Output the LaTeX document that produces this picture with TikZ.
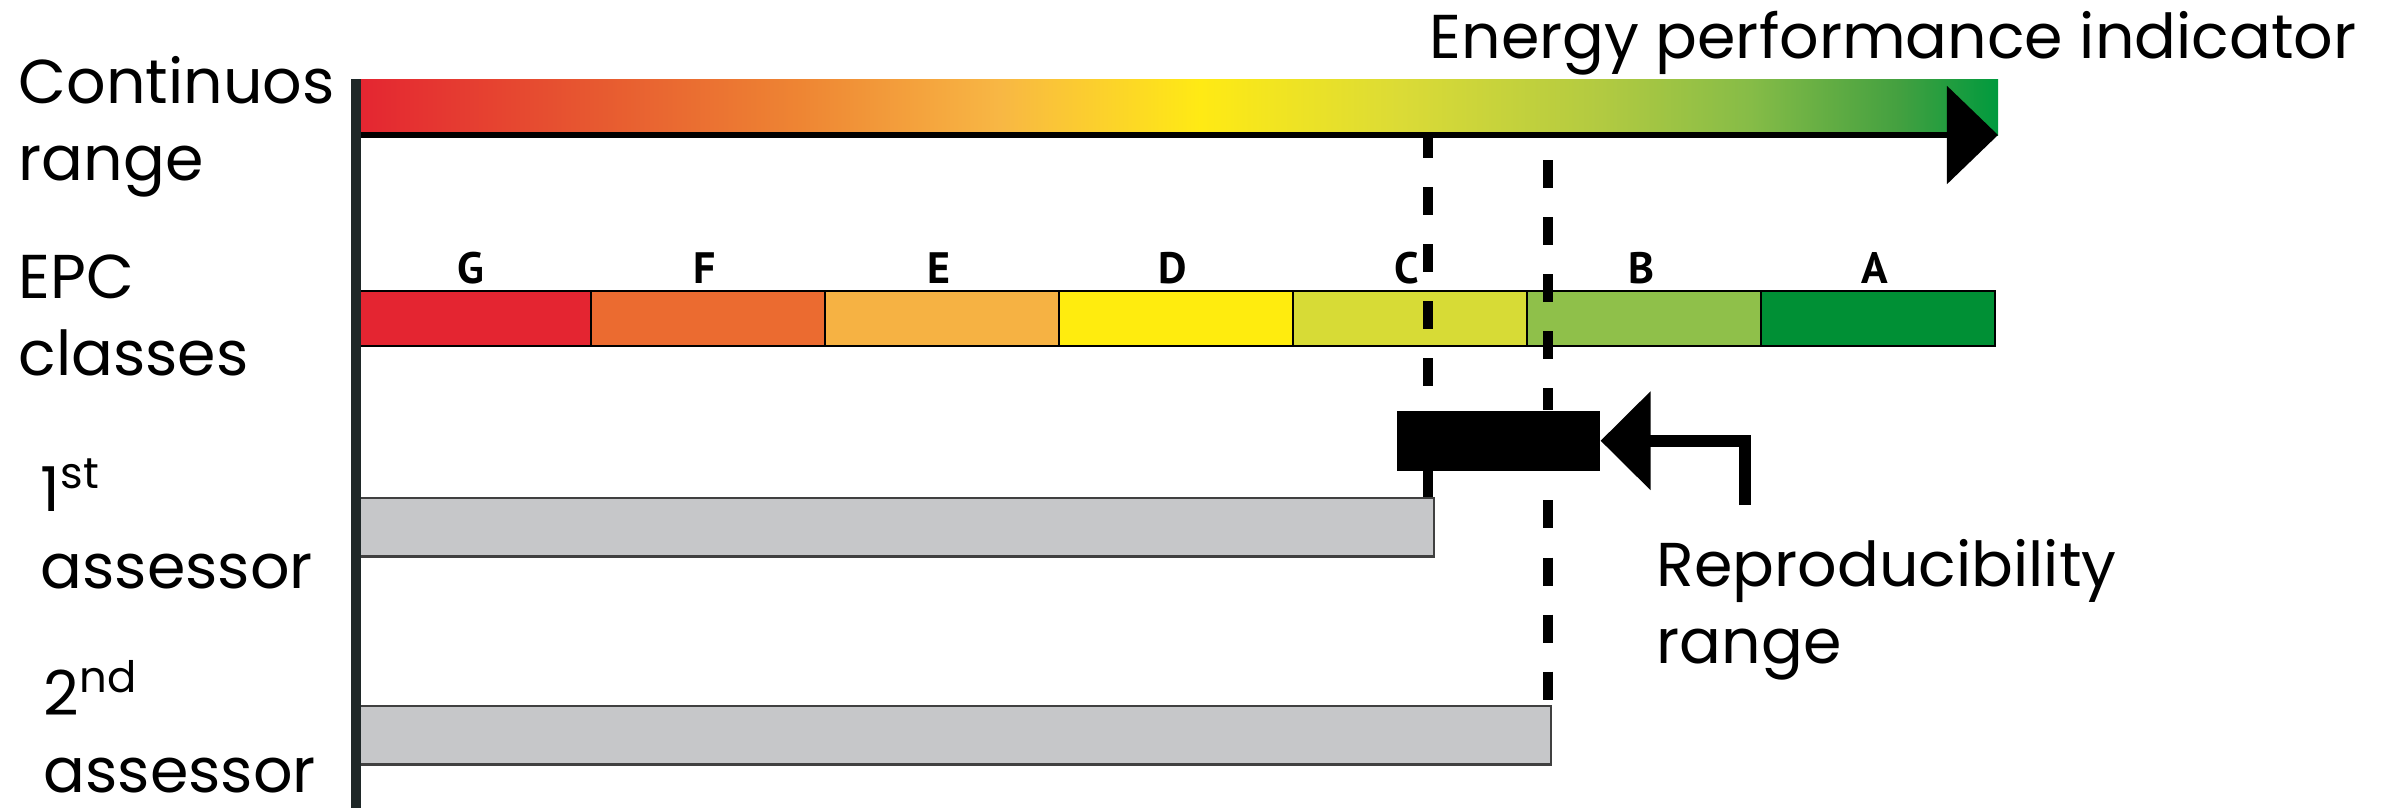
\documentclass[tikz,border=0pt]{standalone}
\usepackage{fontspec}
\setmainfont{Poppins}
\newfontfamily\classfont{PT Sans}
\usetikzlibrary{arrows.meta,positioning}

% class colours
\definecolor{clsG}{HTML}{E42531}
\definecolor{clsF}{HTML}{EB6B30}
\definecolor{clsE}{HTML}{F6B243}
\definecolor{clsD}{HTML}{FFEC0E}
\definecolor{clsC}{HTML}{D7DB36}
\definecolor{clsB}{HTML}{8FC04A}
\definecolor{clsA}{HTML}{009035}
\definecolor{barGray}{HTML}{C6C7C9}
\definecolor{axisCol}{HTML}{1F2828}

% continuous scale colours
\definecolor{sc0}{HTML}{E42531}
\definecolor{sc1}{HTML}{E75A30}
\definecolor{sc2}{HTML}{EE8533}
\definecolor{sc3}{HTML}{F8B744}
\definecolor{sc4}{HTML}{FFEA14}
\definecolor{sc5}{HTML}{DBDB36}
\definecolor{sc6}{HTML}{B2CA41}
\definecolor{sc7}{HTML}{86BC47}
\definecolor{sc8}{HTML}{43A040}
\definecolor{sc9}{HTML}{009A3E}

\pgfdeclarehorizontalshading{energyshade}{100bp}{color(0bp)=(sc0); color(25bp)=(sc0);
  color(32.45bp)=(sc1); color(38.5bp)=(sc2); color(44.6bp)=(sc3); color(50.7bp)=(sc4);
  color(56.8bp)=(sc5); color(62.9bp)=(sc6); color(67.45bp)=(sc7); color(72bp)=(sc8);
  color(75bp)=(sc9); color(100bp)=(sc9)}

\tikzset{
  sidelabel/.style={font=\fontsize{17.6}{21.9}\selectfont, inner sep=0pt, align=left, anchor=base west},
  classbox/.style={draw=black, line width=0.6pt, inner sep=0pt, minimum width=2.34cm, minimum height=0.55cm, anchor=north west},
  classletter/.style={font=\classfont\bfseries\fontsize{12.5}{12.5}\selectfont, inner sep=0pt, anchor=base},
  assessbar/.style={draw=black!75, fill=barGray, line width=0.7pt, inner sep=0pt, minimum height=0.58cm, anchor=north west},
  guideline/.style={line width=0.1cm, dash pattern=on 0.28cm off 0.29cm},
}

\begin{document}
\begin{tikzpicture}[x=0.01cm, y=-0.01cm]
\useasboundingbox (0,0) rectangle (2394,808);

% continuous range with its arrow
\coordinate (scaleStart) at (356,135);
\coordinate (scaleEnd) at (1998,135);
\shade[shading=energyshade] (356,79) rectangle (1998,135);
\draw[line width=0.06cm, -{Triangle[length=0.51cm, width=0.97cm]}] (scaleStart) -- (scaleEnd);

% EPC classes
\foreach \c [count=\i from 0] in {G,F,E,D,C,B,A} {
  \node[classbox, fill=cls\c] (cls-\c) at ({356+234*\i},290) {};
  \node[classletter] (let-\c) at ({471+234*\i},283) {\c};
}

% assessor results
\node[assessbar, minimum width=10.76cm] (bar1) at (356,497) {};
\node[assessbar, minimum width=11.93cm] (bar2) at (356,705) {};
\node[fill=black, inner sep=0pt, minimum width=2.03cm, minimum height=0.60cm, anchor=north west] (repbox) at (1396,410) {};

% guide lines
\coordinate (guideA) at (1428,137);
\coordinate (guideB) at (1548,160);
\draw[guideline, dash phase=0.07cm] (guideA) -- (guideA |- repbox.north);
\draw[line width=0.1cm] (guideA |- repbox.south) -- (guideA |- bar1.north);
\draw[guideline] (guideB) -- (guideB |- repbox.north);
\draw[guideline, dash phase=0.28cm] (guideB |- repbox.south) -- (guideB |- bar2.north);

% reproducibility arrow
\coordinate (repfoot) at (1745,505);
\draw[line width=0.12cm, -{Triangle[length=0.5cm, width=0.96cm]}] (repfoot) |- (repbox.east);

% vertical axis
\coordinate (axisTop) at (356,79);
\coordinate (axisBot) at (356,808);
\draw[line width=0.1cm, draw=axisCol] (axisTop) -- (axisBot);

% labels (base = last line)
\node[sidelabel] (lblRange) at (18,180) {Continuos\\range};
\node[sidelabel] (lblClasses) at (18,375) {EPC\\classes};
\node[sidelabel] (lblFirst) at (40,588) {1\textsuperscript{st}\\assessor};
\node[sidelabel] (lblSecond) at (43,792) {2\textsuperscript{nd}\\assessor};
\node[sidelabel, anchor=base] (lblEPI) at (1893,58) {Energy performance indicator};
\node[sidelabel] (lblRepro) at (1656,663) {Reproducibility\\range};

\end{tikzpicture}
\end{document}
